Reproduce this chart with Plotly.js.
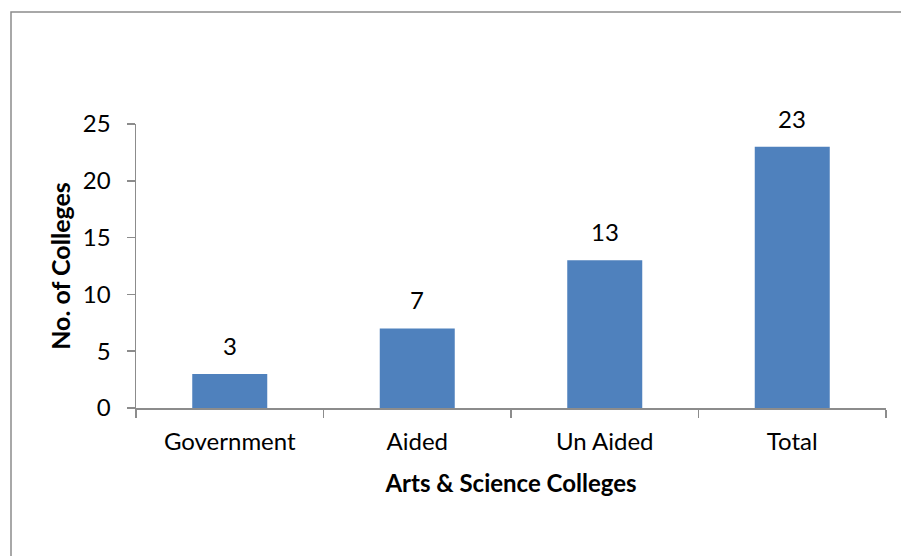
<!DOCTYPE html>
<html><head><meta charset="utf-8">
<script src="https://cdn.plot.ly/plotly-3.0.1.min.js"></script>
<style>html,body{margin:0;padding:0;background:#fff}</style>
</head><body>
<div id="chart" style="width:901px;height:556px"></div>
<script>
const categories = ["Government", "Aided", "Un Aided", "Total"];
const colleges = [3, 7, 13, 23];
const yTicks = [0, 5, 10, 15, 20, 25];

const fontFam = "Lato, 'Open Sans', sans-serif";
const FS = 24;
const L = 136, R = 15, T = 124, B = 148, W = 901, H = 556;
const pw = W - L - R, ph = H - T - B;

Plotly.newPlot("chart", [{
  type: "bar",
  x: categories,
  y: colleges,
  marker: {color: "#4F81BD"},
  hoverinfo: "none"
}], {
  width: W, height: H,
  margin: {l: L, r: R, t: T, b: B, pad: 0},
  paper_bgcolor: "#fff", plot_bgcolor: "#fff",
  bargap: 0.6,
  showlegend: false,
  font: {family: fontFam, color: "#000"},
  xaxis: {
    type: "category",
    showline: true, linecolor: "#8c8c8c", linewidth: 1.5,
    ticks: "outside", tickson: "boundaries", ticklen: 8, tickcolor: "#8c8c8c", tickwidth: 1.5,
    tickfont: {family: fontFam, size: FS, color: "#000"},
    ticklabelstandoff: 12,
    title: {text: "<b>Arts &amp; Science Colleges</b>", font: {family: fontFam, size: 24, color: "#000"}, standoff: 21},
    showgrid: false, zeroline: false, fixedrange: true
  },
  yaxis: {
    range: [0, 25],
    tickvals: yTicks, ticktext: yTicks.map(String),
    showline: true, linecolor: "#8c8c8c", linewidth: 1.5,
    ticks: "outside", ticklen: 8, tickcolor: "#8c8c8c", tickwidth: 1.5,
    tickfont: {family: fontFam, size: FS, color: "#000"},
    ticklabelstandoff: 11,
    title: {text: "<b>No. of Colleges</b>", font: {family: fontFam, size: 25, color: "#000"}, standoff: 5},
    showgrid: false, zeroline: false, fixedrange: true
  },
  annotations: categories.map((c, i) => ({
    x: c, y: colleges[i], xref: "x", yref: "y",
    text: String(colleges[i]), showarrow: false,
    yanchor: "bottom", yshift: 12,
    font: {family: fontFam, size: FS, color: "#000"}
  })),
  shapes: [{
    type: "rect", xref: "paper", yref: "paper",
    x0: (11 - L) / pw, x1: (W + 20 - L) / pw,
    y0: -(H + 20 - (T + ph)) / ph, y1: (T + ph - 12) / ph,
    line: {color: "#8c8c8c", width: 1.5}, fillcolor: "rgba(0,0,0,0)", layer: "below"
  }]
}, {displayModeBar: false, staticPlot: true});
</script>
</body></html>
